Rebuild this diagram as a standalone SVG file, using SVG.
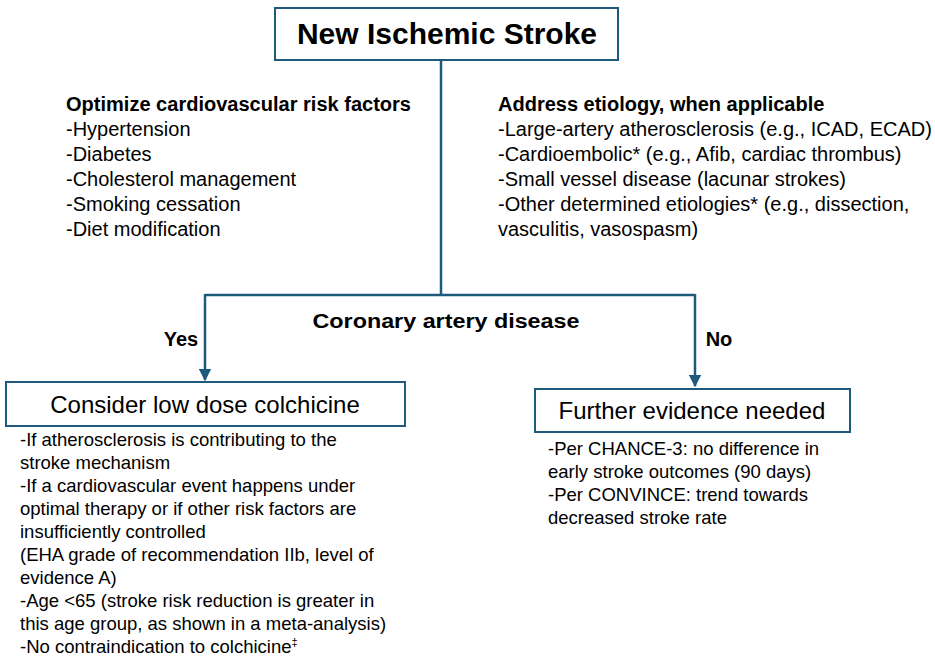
<svg xmlns="http://www.w3.org/2000/svg" width="935" height="662" viewBox="0 0 935 662">
<style>
.box{fill:#fff;stroke:#1d5a7c;stroke-width:2}
.conn{fill:none;stroke:#1d5a7c;stroke-width:2.5}
text{font-family:"Liberation Sans",Arial,sans-serif;fill:#000}
.t{font-size:20px}
.b{font-weight:bold}
.s{font-size:18.5px}
.lbl{font-size:20px;font-weight:bold}
.hd{font-size:24px}
</style>
<defs>
<marker id="ah" viewBox="0 0 10 10" refX="9" refY="5" markerWidth="5" markerHeight="5" markerUnits="strokeWidth" orient="auto">
<path d="M0,0 L10,5 L0,10 z" fill="#1d5a7c"/>
</marker>
</defs>
<g id="connectors">
<path class="conn" d="M441,60 V295"/>
<path class="conn" d="M205,295 H695"/>
<path class="conn" d="M205,294 V380" marker-end="url(#ah)"/>
<path class="conn" d="M695,294 V386" marker-end="url(#ah)"/>
</g>
<g id="n-stroke">
<rect class="box" x="275" y="8" width="343" height="52"/>
<text x="447" y="44" text-anchor="middle" class="b" font-size="30">New Ischemic Stroke</text>
</g>
<g id="n-riskfactors">
<text class="t b" x="66" y="111" textLength="345" lengthAdjust="spacingAndGlyphs">Optimize cardiovascular risk factors</text>
<text class="t" x="66" y="136">-Hypertension</text>
<text class="t" x="66" y="161">-Diabetes</text>
<text class="t" x="66" y="186">-Cholesterol management</text>
<text class="t" x="66" y="211">-Smoking cessation</text>
<text class="t" x="66" y="236">-Diet modification</text>
</g>
<g id="n-etiology">
<text class="t b" x="498" y="111">Address etiology, when applicable</text>
<text class="t" x="498" y="136" textLength="434" lengthAdjust="spacingAndGlyphs">-Large-artery atherosclerosis (e.g., ICAD, ECAD)</text>
<text class="t" x="498" y="161">-Cardioembolic* (e.g., Afib, cardiac thrombus)</text>
<text class="t" x="498" y="186">-Small vessel disease (lacunar strokes)</text>
<text class="t" x="498" y="211">-Other determined etiologies* (e.g., dissection,</text>
<text class="t" x="498" y="236">vasculitis, vasospasm)</text>
</g>
<g id="n-cad">
<text class="lbl" x="446" y="328" text-anchor="middle" textLength="267" lengthAdjust="spacingAndGlyphs">Coronary artery disease</text>
<text class="lbl" x="181" y="346" text-anchor="middle" font-size="18">Yes</text>
<text class="lbl" x="719" y="346" text-anchor="middle" font-size="18">No</text>
</g>
<g id="n-colchicine">
<rect class="box" x="6" y="382" width="399" height="44"/>
<text x="205" y="413" text-anchor="middle" class="hd">Consider low dose colchicine</text>
<text class="s" x="20" y="446">-If atherosclerosis is contributing to the</text>
<text class="s" x="20" y="469">stroke mechanism</text>
<text class="s" x="20" y="492">-If a cardiovascular event happens under</text>
<text class="s" x="20" y="515">optimal therapy or if other risk factors are</text>
<text class="s" x="20" y="538">insufficiently controlled</text>
<text class="s" x="20" y="561">(EHA grade of recommendation IIb, level of</text>
<text class="s" x="20" y="584">evidence A)</text>
<text class="s" x="20" y="607">-Age &lt;65 (stroke risk reduction is greater in</text>
<text class="s" x="20" y="630">this age group, as shown in a meta-analysis)</text>
<text class="s" x="20" y="653">-No contraindication to colchicine<tspan font-size="11" dy="-7">‡</tspan></text>
</g>
<g id="n-further">
<rect class="box" x="535" y="389" width="315" height="43"/>
<text x="692" y="419" text-anchor="middle" class="hd">Further evidence needed</text>
<text class="s" x="548" y="455">-Per CHANCE-3: no difference in</text>
<text class="s" x="548" y="478">early stroke outcomes (90 days)</text>
<text class="s" x="548" y="501">-Per CONVINCE: trend towards</text>
<text class="s" x="548" y="524">decreased stroke rate</text>
</g>
</svg>
